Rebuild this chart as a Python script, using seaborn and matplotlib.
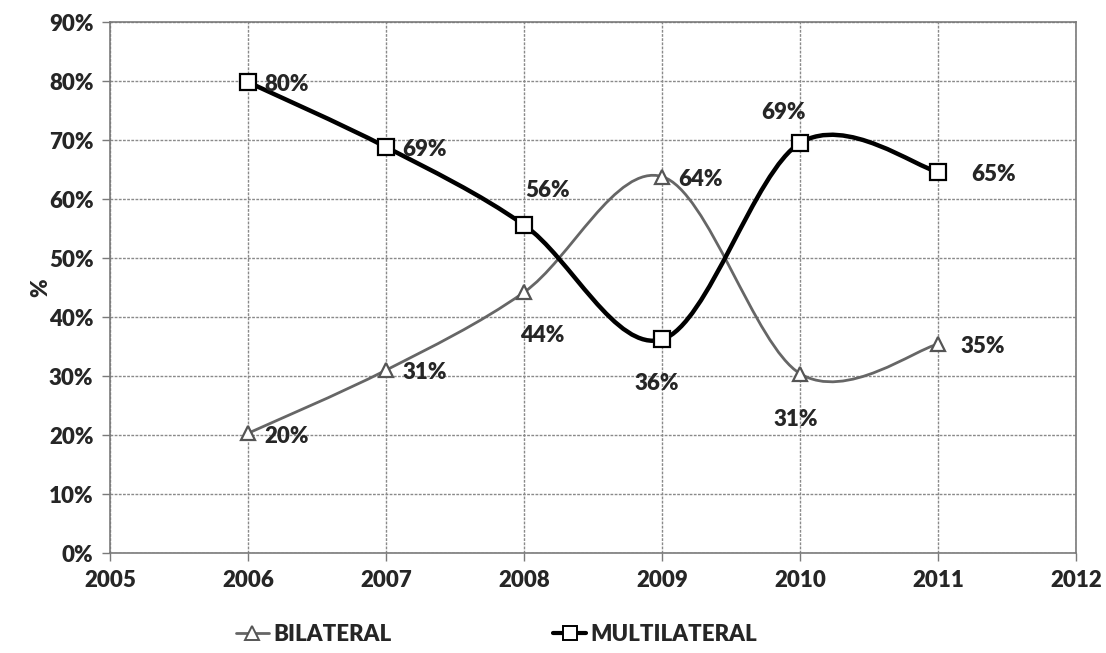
import numpy as np
import pandas as pd
import matplotlib
matplotlib.use("Agg")
import matplotlib.pyplot as plt
import seaborn as sns
from matplotlib.path import Path
from matplotlib.patches import PathPatch
from matplotlib.lines import Line2D
from matplotlib.ticker import PercentFormatter

# ---- data ----
years = [2006, 2007, 2008, 2009, 2010, 2011]
bilateral = [20.3, 31.0, 44.2, 63.8, 30.4, 35.4]
multilateral = [79.8, 68.8, 55.6, 36.2, 69.5, 64.6]
bilateral_labels = ["20%", "31%", "44%", "64%", "31%", "35%"]
multilateral_labels = ["80%", "69%", "56%", "36%", "69%", "65%"]
series_names = ["BILATERAL", "MULTILATERAL"]

# ---- style ----
sns.set_style("white")
plt.rcParams['font.family'] = ['Lato', 'DejaVu Sans']
FW = "heavy"
FS = 16

fig = plt.figure(figsize=(11.06, 6.53), dpi=100)
ax = fig.add_axes([0.0995, 0.1531, 0.8735, 0.8132])

df = pd.DataFrame({
    "year": years * 2,
    "value": bilateral + multilateral,
    "series": [series_names[0]] * len(years) + [series_names[1]] * len(years),
})

def smooth_path(xs, ys):
    # Excel-style smoothed line (cubic Bezier, Catmull-Rom tension 1/6)
    pts = np.column_stack([xs, ys]).astype(float)
    n = len(pts)
    verts = [tuple(pts[0])]
    codes = [Path.MOVETO]
    for i in range(n - 1):
        p0 = pts[i - 1] if i > 0 else pts[i]
        p1 = pts[i]
        p2 = pts[i + 1]
        p3 = pts[i + 2] if i + 2 < n else pts[i + 1]
        c1 = p1 + (p2 - p0) / 6.0
        c2 = p2 - (p3 - p1) / 6.0
        verts += [tuple(c1), tuple(c2), tuple(p2)]
        codes += [Path.CURVE4] * 3
    return Path(verts, codes)

colors = {"BILATERAL": "#666666", "MULTILATERAL": "#000000"}
widths = {"BILATERAL": 2.0, "MULTILATERAL": 3.2}
markers = {"BILATERAL": "^", "MULTILATERAL": "s"}
zorders = {"BILATERAL": 3, "MULTILATERAL": 4}

for name in series_names:
    sub = df[df.series == name]
    patch = PathPatch(smooth_path(sub.year.values, sub.value.values),
                      facecolor="none", edgecolor=colors[name],
                      lw=widths[name], zorder=zorders[name])
    ax.add_patch(patch)

for name in series_names:
    sub = df[df.series == name]
    sns.lineplot(data=sub, x="year", y="value", ax=ax, linestyle="",
                 marker=markers[name], markersize=11 if name == "MULTILATERAL" else 10,
                 markerfacecolor="white", markeredgecolor="#000000" if name == "MULTILATERAL" else "#555555",
                 markeredgewidth=1.6, zorder=6, legend=False, color=colors[name])

# data labels (offsets in points)
bil_off = [(28, -2), (28, -2), (13, -31), (28, -2), (-3, -33), (32, -2)]
mul_off = [(28, -2), (28, -2), (17, 25), (-4, -32), (-12, 22), (40, -2)]
for x, y, t, o in zip(years, bilateral, bilateral_labels, bil_off):
    ax.annotate(t, (x, y), xytext=o, textcoords="offset points",
                ha="center", va="center", fontsize=FS, fontweight=FW, zorder=7)
for x, y, t, o in zip(years, multilateral, multilateral_labels, mul_off):
    ax.annotate(t, (x, y), xytext=o, textcoords="offset points",
                ha="center", va="center", fontsize=FS, fontweight=FW, zorder=7)

ax.set_xlim(2005, 2012)
ax.set_ylim(0, 90)
ax.set_xticks(range(2005, 2013))
ax.set_yticks(range(0, 91, 10))
ax.yaxis.set_major_formatter(PercentFormatter(decimals=0))
ax.grid(True, color="#8a8a8a", lw=1.0, ls=(0, (2, 1)))
ax.set_axisbelow(True)
for s in ax.spines.values():
    s.set_visible(True)
    s.set_color("#7a7a7a")
    s.set_linewidth(1.2)
ax.tick_params(axis="both", labelsize=FS, length=6, width=1, color="#7a7a7a",
               direction="out", bottom=True, left=True, pad=6)
for lbl in ax.get_xticklabels() + ax.get_yticklabels():
    lbl.set_fontweight(FW)
ax.set_xlabel("")
ax.set_ylabel("%", fontsize=FS, fontweight=FW, labelpad=-2)

handles = [
    Line2D([0], [0], color=colors["BILATERAL"], lw=2.0, marker="^", markersize=10,
           markerfacecolor="white", markeredgecolor="#555555", markeredgewidth=1.4),
    Line2D([0], [0], color=colors["MULTILATERAL"], lw=3.0, marker="s", markersize=10,
           markerfacecolor="white", markeredgecolor="black", markeredgewidth=1.4),
]
fig.legend(handles, series_names, loc="lower center", ncol=2, frameon=False,
           bbox_to_anchor=(0.449, -0.018), columnspacing=7.3, handlelength=1.45,
           handletextpad=0.2, prop={"size": FS, "weight": FW})

fig.savefig("out.png", dpi=100, facecolor="white")
